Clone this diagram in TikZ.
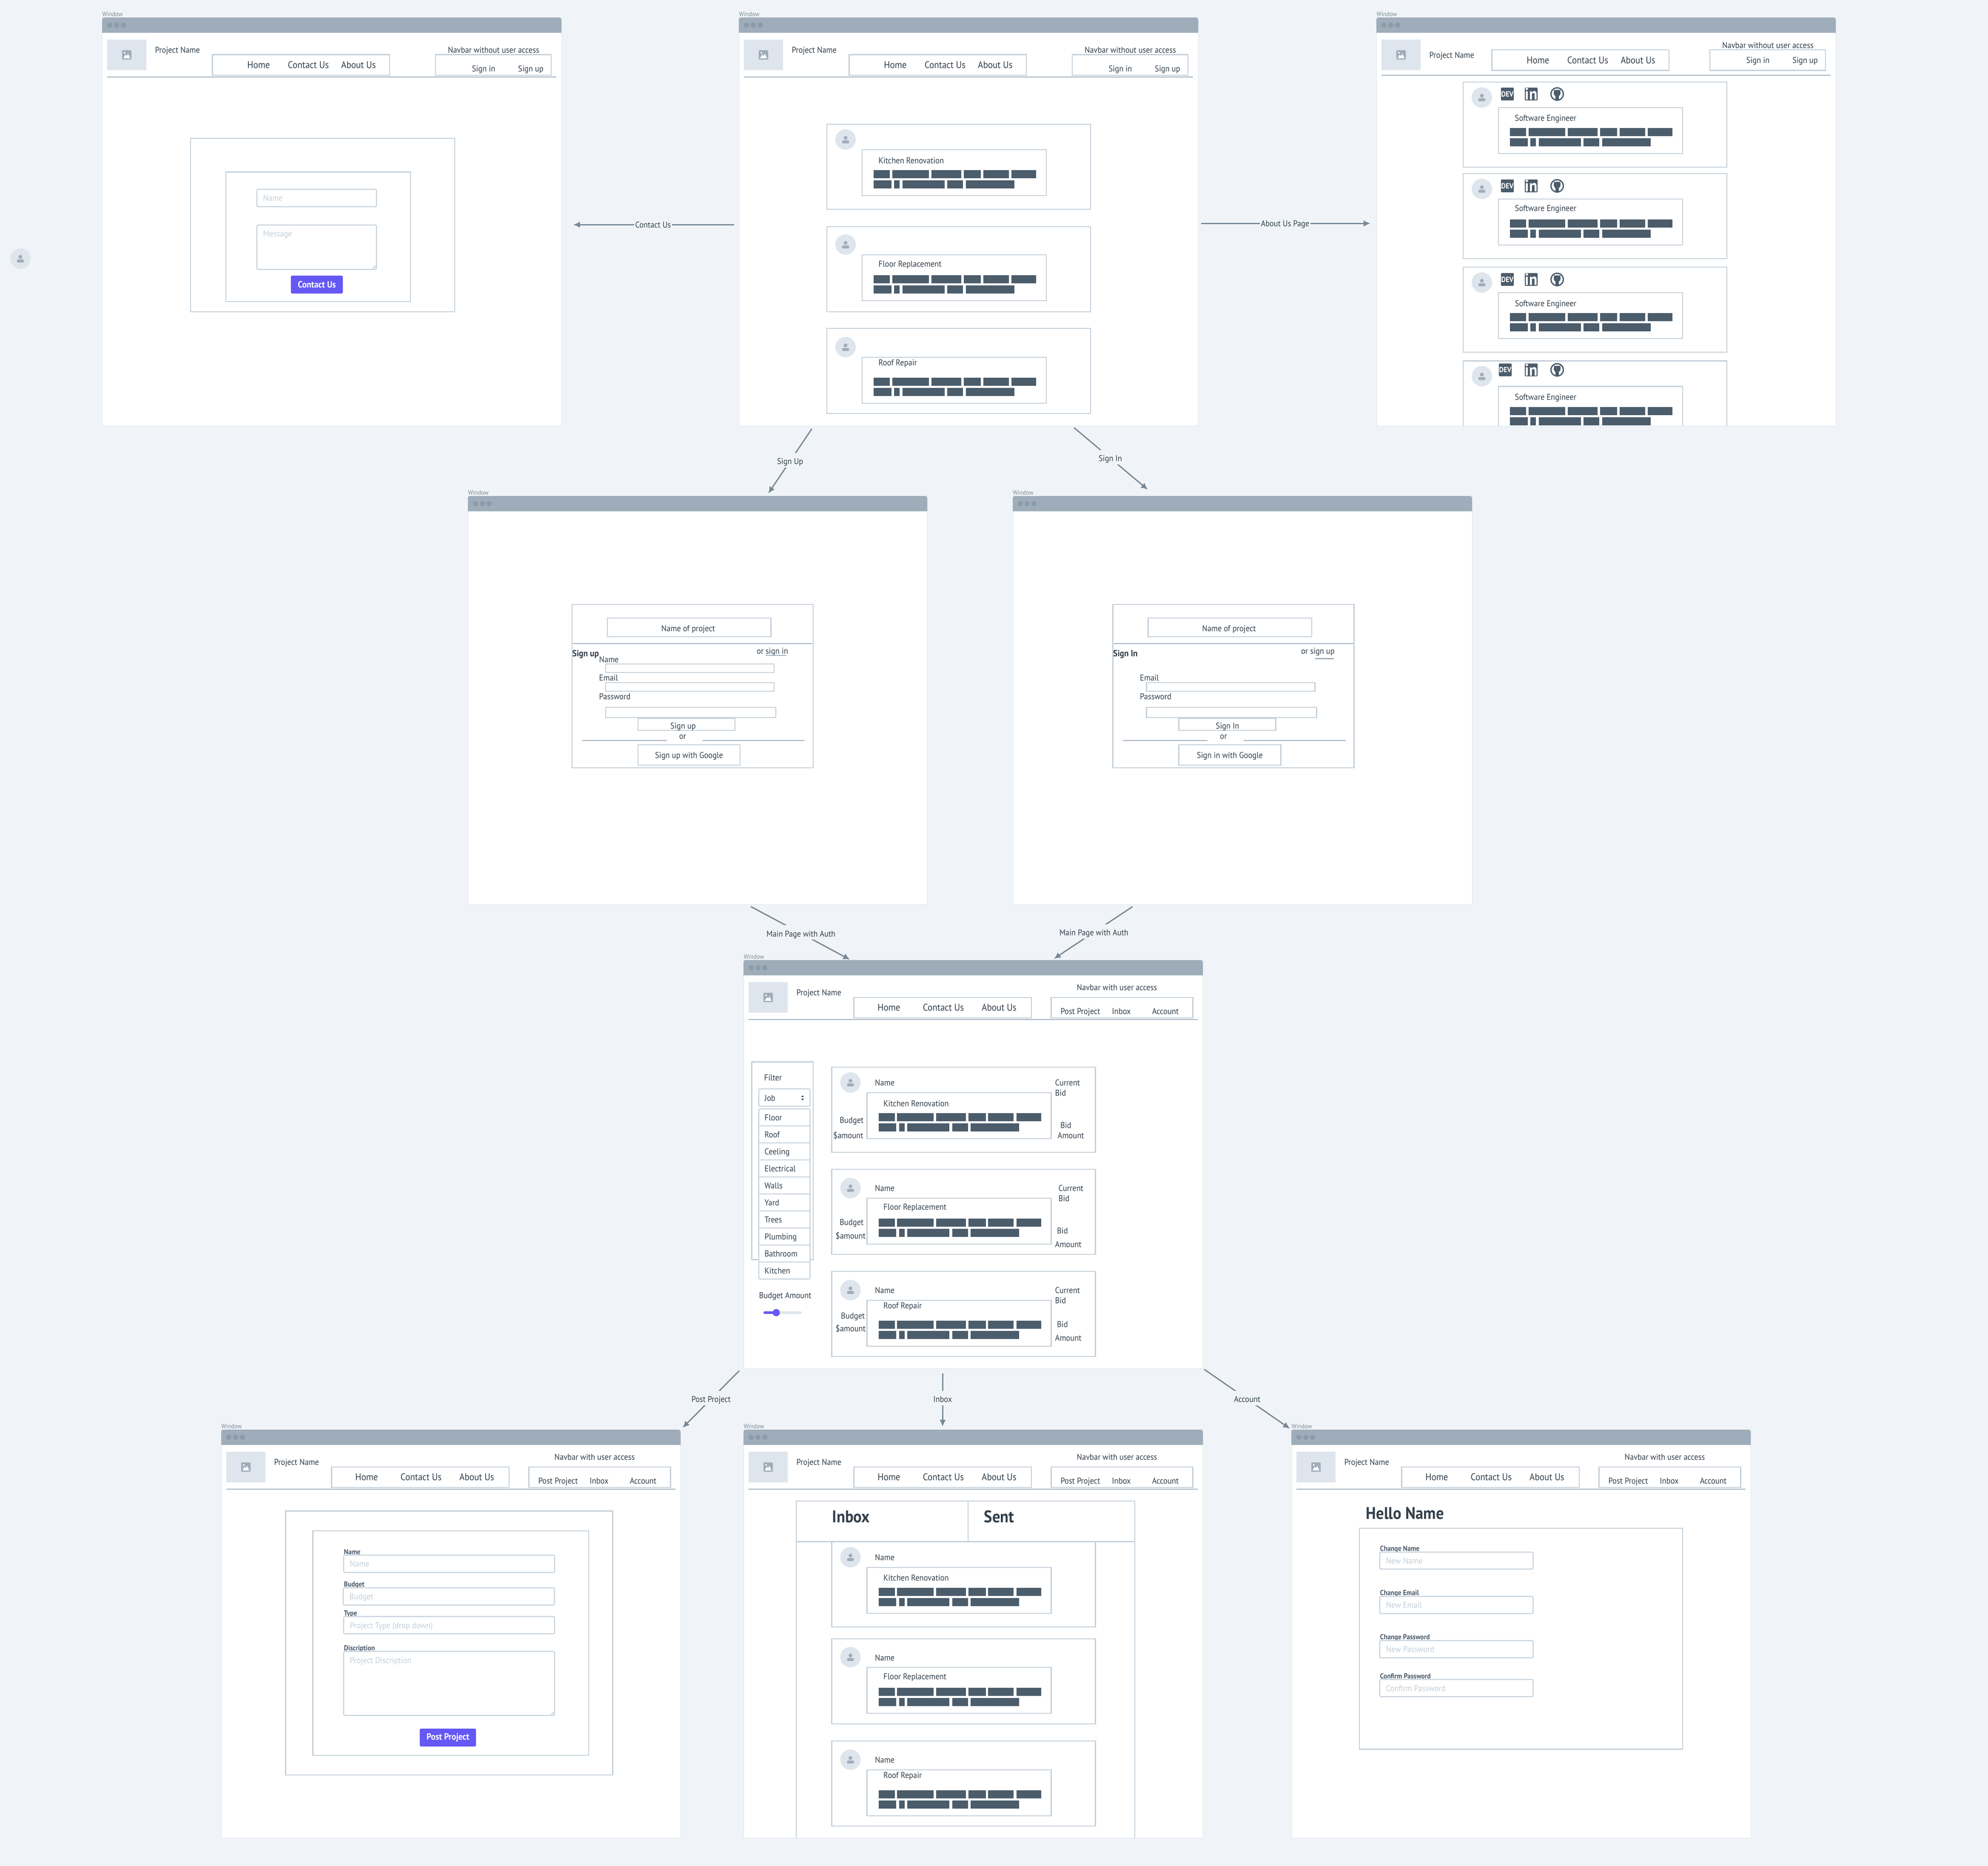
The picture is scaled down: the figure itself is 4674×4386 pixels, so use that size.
\documentclass[tikz,border=0pt]{standalone}
\usepackage{fontspec}
\setmainfont[FakeStretch=0.92]{PT Sans}
\usetikzlibrary{arrows.meta, positioning}

\definecolor{pagebg}{HTML}{F0F4F8}
\definecolor{barblue}{HTML}{9FADBA}
\definecolor{dotgray}{HTML}{8C9BA8}
\definecolor{wiregray}{HTML}{C3CFD9}
\definecolor{inkdark}{HTML}{323F4B}
\definecolor{barink}{HTML}{4B5C6B}
\definecolor{softgray}{HTML}{DFE5ED}
\definecolor{flowgray}{HTML}{788896}
\definecolor{btnpurple}{HTML}{6558F5}

% one unit is one pixel of the page, y runs down
\tikzset{
	winframe/.style={rectangle, fill=white, draw=pagebg!60!wiregray, line width=0.01cm, inner sep=0pt, outer sep=0pt,
		minimum width=10.8cm, minimum height=9.6cm, anchor=north west},
	wincap/.style={font=\fontsize{4.3}{5}\selectfont, text=flowgray, inner sep=0pt, anchor=west},
	txt/.style={font=\fontsize{5.7}{7}\selectfont, text=inkdark, inner sep=0pt, text height=0.7em, text depth=0.27em},
	navtxt/.style={txt, font=\fontsize{6.5}{8}\selectfont},
	hint/.style={txt, text=wiregray, anchor=west},
	small/.style={txt, font=\fontsize{4.85}{6}\selectfont\bfseries, text=barink, anchor=west},
	heading/.style={txt, font=\fontsize{11.3}{12}\selectfont\bfseries, text depth=0.15em, anchor=west},
	wire/.style={draw=wiregray, line width=0.022cm},
	field/.style={wire, fill=white, rounded corners=0.03cm},
	rulefine/.style={draw=barblue, line width=0.022cm},
	flow/.style={draw=flowgray, line width=0.03cm, -{Latex[length=0.16cm,width=0.15cm]}},
	flowtag/.style={txt, font=\fontsize{5.65}{6}\selectfont, fill=pagebg, text depth=0.15em, inner xsep=0.03cm, inner ysep=0.02cm, yshift=0.02cm},
	avatarpic/.style={circle, fill=softgray, minimum size=0.48cm, inner sep=0pt},
	btnfill/.style={rectangle, fill=btnpurple, rounded corners=0.03cm, inner sep=0pt, text=white,
		font=\fontsize{6.1}{7}\selectfont\bfseries, minimum height=0.42cm},
	devtag/.style={rectangle, fill=barink, rounded corners=0.02cm, inner sep=0pt, text=white,
		minimum width=0.3cm, minimum height=0.3cm},
}

% window with title bar
\newcommand{\browserwin}[3]{%
	\node (#1) [winframe] at (#2,#3) {};
	\node (#1cap) [wincap] at (#2,#3-8) {Window};
	\fill[barblue] (#2,#3+36) {[rounded corners=0.05cm] -- (#2,#3) -- (#2+1080,#3)} -- (#2+1080,#3+36) -- cycle;
	\foreach \dotx in {18,34,50} \fill[dotgray] (#2+\dotx,#3+18) circle (6);
}

\newcommand{\imgholder}{%
	\fill[softgray] (12,52) rectangle (104,124);
	\fill[barblue, rounded corners=0.02cm] (47,77) rectangle (69,99);
	\fill[white] (50,96) -- (55,87) -- (58,91) -- (61,85) -- (66,96) -- cycle;
	\fill[white] (53,83) circle (2);
}

\newcommand{\avatar}[3]{%
	\node (#1) [avatarpic] at (#2,#3) {};
	\fill[barblue] (#2,#3-4) circle (4.5);
	\fill[barblue, rounded corners=0.02cm] (#2-8,#3+2) rectangle (#2+8,#3+9);
}

% prefix, project y, label y, nav x shift, nav top, rule y, sign y
\newcommand{\navguest}[7]{%
	\imgholder
	\node (#1proj) [txt, anchor=west] at (124,#2) {Project Name};
	\draw[wire] (259.5+#4,#5) rectangle (676+#4,#5+48.5);
	\node (#1home) [navtxt] at (368+#4,#5+24.5) {Home};
	\node (#1contact) [navtxt] at (485+#4,#5+24.5) {Contact Us};
	\node (#1about) [navtxt] at (603+#4,#5+24.5) {About Us};
	\node (#1access) [txt] at (920.5,#3) {Navbar without user access};
	\draw[wire] (784,#5) rectangle (1056,#5+48.5);
	\node (#1in) [txt] at (897,#7) {Sign in};
	\node (#1up) [txt] at (1008,#7) {Sign up};
	\draw[rulefine] (12,#6) -- (1068,#6);
}

\newcommand{\navuser}[1]{%
	\imgholder
	\node (#1proj) [txt, anchor=west] at (124,76) {Project Name};
	\draw[wire] (259.5,88) rectangle (677,136);
	\node (#1home) [navtxt] at (342,112) {Home};
	\node (#1contact) [navtxt] at (470,112) {Contact Us};
	\node (#1about) [navtxt] at (601,112) {About Us};
	\node (#1access) [txt] at (878,64) {Navbar with user access};
	\draw[wire] (723.5,88) rectangle (1056.5,136);
	\node (#1post) [txt] at (792,120) {Post Project};
	\node (#1inbox) [txt] at (888.5,120) {Inbox};
	\node (#1acct) [txt] at (992,120) {Account};
	\draw[rulefine] (12,140) -- (1068,140);
}

% the two rows of blocked text
\newcommand{\textbars}[1]{%
	\foreach \xa/\xb in {110/148,153.5/239.5,245.5/315.5,321.5/362,367.5/427.5,434/492}
		\fill[barink] (\xa,#1) rectangle (\xb,#1+19);
	\foreach \xa/\xb in {110/151.5,158/171,177.5/276.5,283/320,326.5/440.5}
		\fill[barink] (\xa,#1+24) rectangle (\xb,#1+43);
}

% prefix, x, y, title, top of inner box, title y
\newcommand{\jobcard}[6]{%
	\begin{scope}[shift={(#2,#3)}]
	\draw[wire] (0,0) rectangle (620,200);
	\draw[wire] (83,#5) rectangle (516,#5+108);
	\avatar{#1pic}{44}{#5-24}
	\node (#1title) [txt, anchor=west] at (121,#6) {#4};
	\textbars{#5+48}
	\end{scope}
}

% dev, linkedin and github marks
\newcommand{\socials}[3]{%
	\node (#1dev) [devtag, font=\fontsize{5}{5}\selectfont\bfseries] at (#2,#3) {DEV};
	\node (#1lin) [devtag, font=\fontsize{11}{11}\selectfont\bfseries] at (160,#3) {in};
	\fill[barink] (221,#3) circle (16);
	\fill[white] (221,#3) circle (13);
	\fill[barink] (221,#3-2) circle (8);
	\fill[barink] (213.5,#3-3) -- (213.5,#3-10.5) -- (219,#3-8) -- cycle;
	\fill[barink] (228.5,#3-3) -- (228.5,#3-10.5) -- (223,#3-8) -- cycle;
	\fill[barink] (217,#3) rectangle (225,#3+15);
}

% prefix, x1, y1, x2, y2, hint
\newcommand{\inputbox}[6]{%
	\draw[field] (#2,#3) rectangle (#4,#5);
	\node (#1) [hint] at (#2+14,#3+20) {#6};
}
\newcommand{\gripmark}[2]{%
	\draw[draw=barblue, line width=0.008cm] (#1-9,#2-2) -- (#1-2,#2-9) (#1-5,#2-2) -- (#1-2,#2-5);
}

% prefix, heading, other link, link x, button, button x, google button
\newcommand{\authform}[7]{%
	\draw[wire] (245,255) rectangle (812,639);
	\draw[wire] (328,287) rectangle (712.5,331);
	\node (#1brand) [txt] at (518,311) {Name of project};
	\draw[rulefine] (247,347) -- (810,347);
	\node (#1head) [txt, font=\fontsize{6}{7}\selectfont\bfseries, anchor=west] at (245,370) {#2};
	\node (#1alt) [txt] at (#4,364) {#3};
	\node (#1email) [txt, anchor=west] at (308,427) {Email};
	\draw[wire] (324,439) rectangle (720,459);
	\node (#1pass) [txt, anchor=west] at (308,471) {Password};
	\draw[wire] (324,497) rectangle (724,521);
	\draw[wire] (400,523) rectangle (628,551);
	\node (#1go) [txt] at (#6,540) {#5};
	\node (#1or) [txt] at (505,564) {or};
	\draw[rulefine] (268,575) -- (467.5,575) (552,575) -- (792,575);
	\draw[wire] (400,585) rectangle (640,633);
	\node (#1goog) [txt] at (520,609) {#7};
}

\begin{document}
\begin{tikzpicture}[x=0.01cm, y=-0.01cm]

\fill[pagebg] (0,0) rectangle (4674,4386);
\useasboundingbox (0,0) rectangle (4674,4386);

% stray avatar on the left
\avatar{strayPic}{48}{608}

% the nine windows
\browserwin{winContact}{240}{41}
\browserwin{winMain}{1737}{41}
\browserwin{winAbout}{3236}{41}
\browserwin{winSignUp}{1100}{1166}
\browserwin{winSignIn}{2381}{1166}
\browserwin{winAuth}{1748}{2257}
\browserwin{winPost}{520}{3361}
\browserwin{winInbox}{1748}{3361}
\browserwin{winAccount}{3036}{3361}

% contact page
\begin{scope}[shift={(240,41)}]
\navguest{ca}{76}{76}{0}{87.5}{140}{120}
\draw[wire] (208,284) rectangle (829,692);
\draw[wire] (291,363.5) rectangle (725,668);
\inputbox{caName}{364}{404}{645}{445}{Name}
\inputbox{caMsg}{364}{488}{645}{592.5}{Message}
\gripmark{645}{592}
\node (caSend) [btnfill, minimum width=1.22cm] at (505,628) {Contact Us};
\end{scope}

% main page
\begin{scope}[shift={(1737,41)}]
\navguest{mb}{76}{76}{0}{87.5}{140}{120}
\jobcard{mbOne}{207}{251}{Kitchen Renovation}{60}{85}
\jobcard{mbTwo}{207}{492}{Floor Replacement}{66}{87}
\jobcard{mbThree}{207}{731}{Roof Repair}{68}{80}
\end{scope}

% about page
\begin{scope}[shift={(3236,41)}]
\navguest{ab}{88}{64.5}{12}{76}{136}{100}
\clip (0,0) rectangle (1080,960);
\jobcard{abOne}{204}{152}{Software Engineer}{60}{84}
\jobcard{abTwo}{204}{367}{Software Engineer}{60}{81}
\jobcard{abThree}{204}{587}{Software Engineer}{60}{85}
\jobcard{abFour}{204}{807.5}{Software Engineer}{60}{84.5}
\begin{scope}[shift={(204,0)}]
\socials{abOne}{104}{180}
\socials{abTwo}{104}{396}
\socials{abThree}{104}{616}
\socials{abFour}{99}{828.5}
\end{scope}
\end{scope}

% sign up
\begin{scope}[shift={(1100,1166)}]
\authform{su}{Sign up}{or sign in}{716}{Sign up}{506}{Sign up with Google}
\draw[rulefine] (700,375) -- (748.5,375);
\node (suName) [txt, anchor=west] at (308,384) {Name};
\draw[wire] (324,395) rectangle (720,415);
\end{scope}

% sign in
\begin{scope}[shift={(2371.5,1166)}]
\authform{si}{Sign In}{or sign up}{727}{Sign In}{514.5}{Sign in with Google}
\draw[rulefine] (720.5,382.5) -- (764.5,382.5);
\end{scope}

% main page with auth
\begin{scope}[shift={(1748,2257)}]
\navuser{ma}
% filter column
\draw[wire] (19.5,239.5) rectangle (164,704.5);
\node (maFilter) [txt, anchor=west] at (48,276) {Filter};
\draw[field] (36,303) rectangle (156.5,344);
\node (maJob) [txt, anchor=west] at (49,324) {Job};
\fill[inkdark] (136,322) -- (142,322) -- (139,318) -- cycle;
\fill[inkdark] (136,326) -- (142,326) -- (139,330) -- cycle;
\draw[field] (36,350) rectangle (156.5,750);
\foreach \rowitem [count=\rowno] in {Floor,Roof,Ceeling,Electrical,Walls,Yard,Trees,Plumbing,Bathroom,Kitchen} {
	\node (maRow\rowno) [txt, anchor=west] at (49,330+40*\rowno) {\rowitem};
	\ifnum\rowno<10 \draw[wire] (36,350+40*\rowno) -- (156.5,350+40*\rowno); \fi
}
\node (maBudget) [txt, anchor=west] at (36,788) {Budget Amount};
\draw[draw=softgray, line width=0.06cm, line cap=round] (50,829) -- (134,829);
\draw[draw=btnpurple, line width=0.06cm, line cap=round] (50,829) -- (77,829);
\fill[btnpurple] (77,829) circle (8.5);
% cards
\jobcard{maOne}{207.5}{252}{Kitchen Renovation}{60}{85}
\jobcard{maTwo}{207.5}{492}{Floor Replacement}{68}{88}
\jobcard{maThree}{207.5}{732}{Roof Repair}{68}{80}
\node (maNmOne) [txt, anchor=west] at (308.5,288) {Name};
\node (maNmTwo) [txt, anchor=west] at (308.5,536) {Name};
\node (maNmThree) [txt, anchor=west] at (308.5,776) {Name};
\node (maCurOne) [txt, anchor=west] at (732,288) {Current};
\node (maCbOne) [txt, anchor=west] at (732,312) {Bid};
\node (maBidOne) [txt, anchor=west] at (744.5,388) {Bid};
\node (maAmtOne) [txt, anchor=west] at (738,412) {Amount};
\node (maBudOne) [txt, anchor=west] at (225.5,376) {Budget};
\node (maUsdOne) [txt, anchor=west] at (210.5,412) {\$amount};
\node (maCurTwo) [txt, anchor=west] at (740,536) {Current};
\node (maCbTwo) [txt, anchor=west] at (740,560) {Bid};
\node (maBidTwo) [txt, anchor=west] at (736.5,636) {Bid};
\node (maAmtTwo) [txt, anchor=west] at (732,668) {Amount};
\node (maBudTwo) [txt, anchor=west] at (225.5,616) {Budget};
\node (maUsdTwo) [txt, anchor=west] at (216,648) {\$amount};
\node (maCurThree) [txt, anchor=west] at (732,776) {Current};
\node (maCbThree) [txt, anchor=west] at (732,800) {Bid};
\node (maBidThree) [txt, anchor=west] at (736.5,856) {Bid};
\node (maAmtThree) [txt, anchor=west] at (732,888) {Amount};
\node (maBudThree) [txt, anchor=west] at (228.5,836) {Budget};
\node (maUsdThree) [txt, anchor=west] at (216,866) {\$amount};
\end{scope}

% post project
\begin{scope}[shift={(520,3361)}]
\navuser{pp}
\draw[wire] (151.5,191.5) rectangle (920.5,812);
\draw[wire] (215.5,238) rectangle (864,766);
\node (ppLblName) [small] at (288,286) {Name};
\inputbox{ppName}{288}{295}{784}{336}{Name}
\node (ppLblBudget) [small] at (288,361.5) {Budget};
\inputbox{ppBudget}{287}{372}{783.5}{412.5}{Budget}
\node (ppLblType) [small] at (288,430) {Type};
\inputbox{ppType}{288}{439.5}{784}{480}{Project Type (drop down)}
\node (ppLblDesc) [small] at (288,511.5) {Discription};
\inputbox{ppDesc}{288}{521.5}{784}{672}{Project Discription}
\gripmark{784}{672}
\node (ppSend) [btnfill, minimum width=1.32cm] at (533,724) {Post Project};
\end{scope}

% inbox
\begin{scope}[shift={(1748,3361)}]
\navuser{ib}
\draw[wire] (124,960) -- (124,168) -- (920,168) -- (920,960);
\draw[wire] (124,263.5) -- (920,263.5);
\draw[wire] (528,168) -- (528,263.5);
\node (ibInbox) [heading] at (208,208.5) {Inbox};
\node (ibSent) [heading] at (565,208.5) {Sent};
\jobcard{ibOne}{207.5}{264}{Kitchen Renovation}{60}{84}
\jobcard{ibTwo}{207.5}{492}{Floor Replacement}{67}{88}
\jobcard{ibThree}{207.5}{732}{Roof Repair}{68}{80}
\node (ibNmOne) [txt, anchor=west] at (308.5,300) {Name};
\node (ibNmTwo) [txt, anchor=west] at (308.5,536) {Name};
\node (ibNmThree) [txt, anchor=west] at (308.5,776) {Name};
\end{scope}

% account
\begin{scope}[shift={(3036,3361)}]
\navuser{ac}
\node (acHello) [heading] at (175,200.5) {Hello Name};
\draw[wire] (160,232) rectangle (920,751.5);
\node (acLblName) [small] at (208,278) {Change Name};
\inputbox{acName}{208}{288}{568.5}{328}{New Name}
\node (acLblEmail) [small] at (208,382) {Change Email};
\inputbox{acEmail}{208}{392}{568.5}{432.5}{New Email}
\node (acLblPass) [small] at (208,486) {Change Password};
\inputbox{acPass}{208}{496}{568.5}{536.5}{New Password}
\node (acLblConf) [small] at (208,578) {Confirm Password};
\inputbox{acConf}{208}{587.5}{568.5}{628}{Confirm Password}
\end{scope}

% links between the windows
\draw[flow, shorten <=0.11cm, shorten >=0.27cm] ([yshift=-0.07cm]winMain.west) -- node[flowtag, pos=0.484] (tagContact) {Contact Us} ([yshift=-0.07cm]winContact.east);
\draw[flow, shorten <=0.06cm, shorten >=0.14cm] ([yshift=-0.04cm]winMain.east) -- node[flowtag, pos=0.487] (tagAbout) {About Us Page} ([yshift=-0.04cm]winAbout.west);
\draw[flow, shorten <=0.08cm, shorten >=0.07cm] ([xshift=-3.64cm]winMain.south) -- node[flowtag] (tagSignUp) {Sign Up} ([xshift=1.62cm]winSignUp.north);
\draw[flow, shorten <=0.06cm, shorten >=0.23cm] ([xshift=2.43cm]winMain.south) -- node[flowtag, pos=0.46] (tagSignIn) {Sign In} ([xshift=-2.05cm]winSignIn.north);
\draw[flow, shorten <=0.10cm, shorten >=0.02cm] ([xshift=1.16cm]winSignUp.south) -- node[flowtag, pos=0.52] (tagAuthA) {Main Page with Auth} ([xshift=-2.88cm]winAuth.north);
\draw[flow, shorten <=0.09cm, shorten >=0.05cm] ([xshift=-2.51cm]winSignIn.south) -- node[flowtag] (tagAuthB) {Main Page with Auth} ([xshift=1.85cm]winAuth.north);
\draw[flow, shorten <=0.07cm, shorten >=0.06cm] ([xshift=-0.05cm]winAuth.south west) -- node[flowtag] (tagPost) {Post Project} (winPost.north east);
\draw[flow, shorten <=0.11cm, shorten >=0.07cm] ([xshift=-0.72cm]winAuth.south) -- node[flowtag] (tagInbox) {Inbox} ([xshift=-0.72cm]winInbox.north);
\draw[flow, shorten <=0.03cm, shorten >=0.04cm] (winAuth.south east) -- node[flowtag] (tagAccount) {Account} (winAccount.north west);

\end{tikzpicture}
\end{document}
